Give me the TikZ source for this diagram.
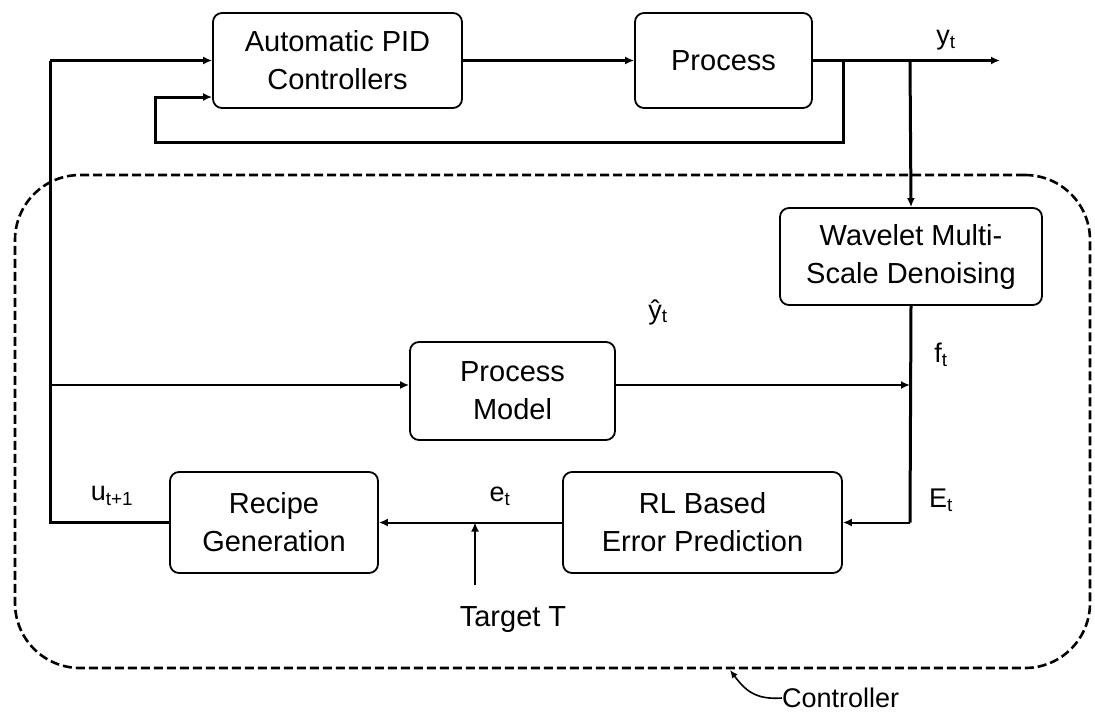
\documentclass[tikz,border=0pt]{standalone}
\usepackage{fontspec}
\setmainfont{Liberation Sans}
\usetikzlibrary{arrows.meta,calc}
\begin{document}
\begin{tikzpicture}[x=1pt,y=-1pt,
  blk/.style={draw,rounded corners=9pt,line width=1.8pt,align=center,inner sep=0pt,
     font=\fontsize{29}{38}\selectfont},
  wire/.style={line width=2pt},
  bus/.style={line width=3pt},
  arr/.style={-{Latex[length=9pt,width=8pt]}},
  lbl/.style={font=\fontsize{27}{30}\selectfont,inner sep=0pt}]
\useasboundingbox (0,0) rectangle (1095,713);
% blocks
\node[blk,minimum width=249pt,minimum height=95pt] (pid) at (337.5,60.5) {Automatic PID\\Controllers};
\node[blk,minimum width=177pt,minimum height=95pt] (proc) at (723.5,60.5) {Process};
\node[blk,minimum width=262pt,minimum height=97pt] (wav) at (911,256.5) {Wavelet Multi-\\Scale Denoising};
\node[blk,minimum width=205pt,minimum height=98pt] (pm) at (512.5,391) {Process\\Model};
\node[blk,minimum width=208pt,minimum height=101pt] (rec) at (274,522.5) {Recipe\\Generation};
\node[blk,minimum width=279pt,minimum height=101pt] (rl) at (702.5,522.5) {RL Based\\Error Prediction};
% coordinates
\coordinate (lt) at (50,60.5);
\coordinate (lb) at (50,522.5);
\coordinate (lm) at (50,385);
\coordinate (out) at (1000,60.5);
\coordinate (tapA) at (843,60.5);
\coordinate (tapB) at (910,60.5);
\coordinate (sum) at (910,385);
\coordinate (ecorner) at (910,522.5);
\coordinate (loopA) at (843,142);
\coordinate (loopB) at (155,142);
\coordinate (loopC) at (155,97);
\coordinate (tgt) at (475,585);
\coordinate (tgtE) at (475,522.5);
% controller region
\node[draw,dashed,line width=2.6pt,dash pattern=on 9pt off 4pt,rounded corners=65pt,
  minimum width=1075pt,minimum height=493pt,inner sep=0pt] (ctrl) at (552.5,421.5) {};
% connectors
\draw[bus] (rec.west) -- (lb) -- (lt);
\draw[bus,arr] (lt) -- (pid.west |- lt);
\draw[bus,arr] (pid.east) -- (proc.west);
\draw[bus,arr] (proc.east) -- (out);
\draw[bus,arr] (tapA) -- (loopA) -- (loopB) -- (loopC) -- (pid.west |- loopC);
\draw[bus,arr] (tapB) -- (wav.north);
\draw[bus] (wav.south) -- (ecorner);
\draw[wire,arr] (ecorner) -- (rl.east |- ecorner);
\draw[wire,arr] (lm) -- (pm.west |- lm);
\draw[wire,arr] (pm.east |- sum) -- (sum);
\draw[wire,arr] (rl.west) -- (rec.east);
\draw[wire,arr] (tgt) -- (tgtE);
% labels
\node[lbl] (ly) at (946,40) {y\textsubscript{t}};
\node[lbl] (lyh) at (658,312) {\^{y}\textsubscript{t}};
\node[lbl] (lf) at (941,355) {f\textsubscript{t}};
\node[lbl] (lE) at (941,500) {E\textsubscript{t}};
\node[lbl] (le) at (500,496) {e\textsubscript{t}};
\node[lbl] (lu) at (112,496) {u\textsubscript{t+1}};
\node[font=\fontsize{29}{34}\selectfont,inner sep=0pt] (ltg) at (513,620) {Target T};
\node[font=\fontsize{27}{32}\selectfont,inner sep=0pt,anchor=west] (lc) at (782,698) {Controller};
\draw[line width=1.6pt,-{Latex[length=8pt,width=7pt]}] (lc.west) .. controls (755,700) and (745,690) .. (730,670);
\end{tikzpicture}
\end{document}
